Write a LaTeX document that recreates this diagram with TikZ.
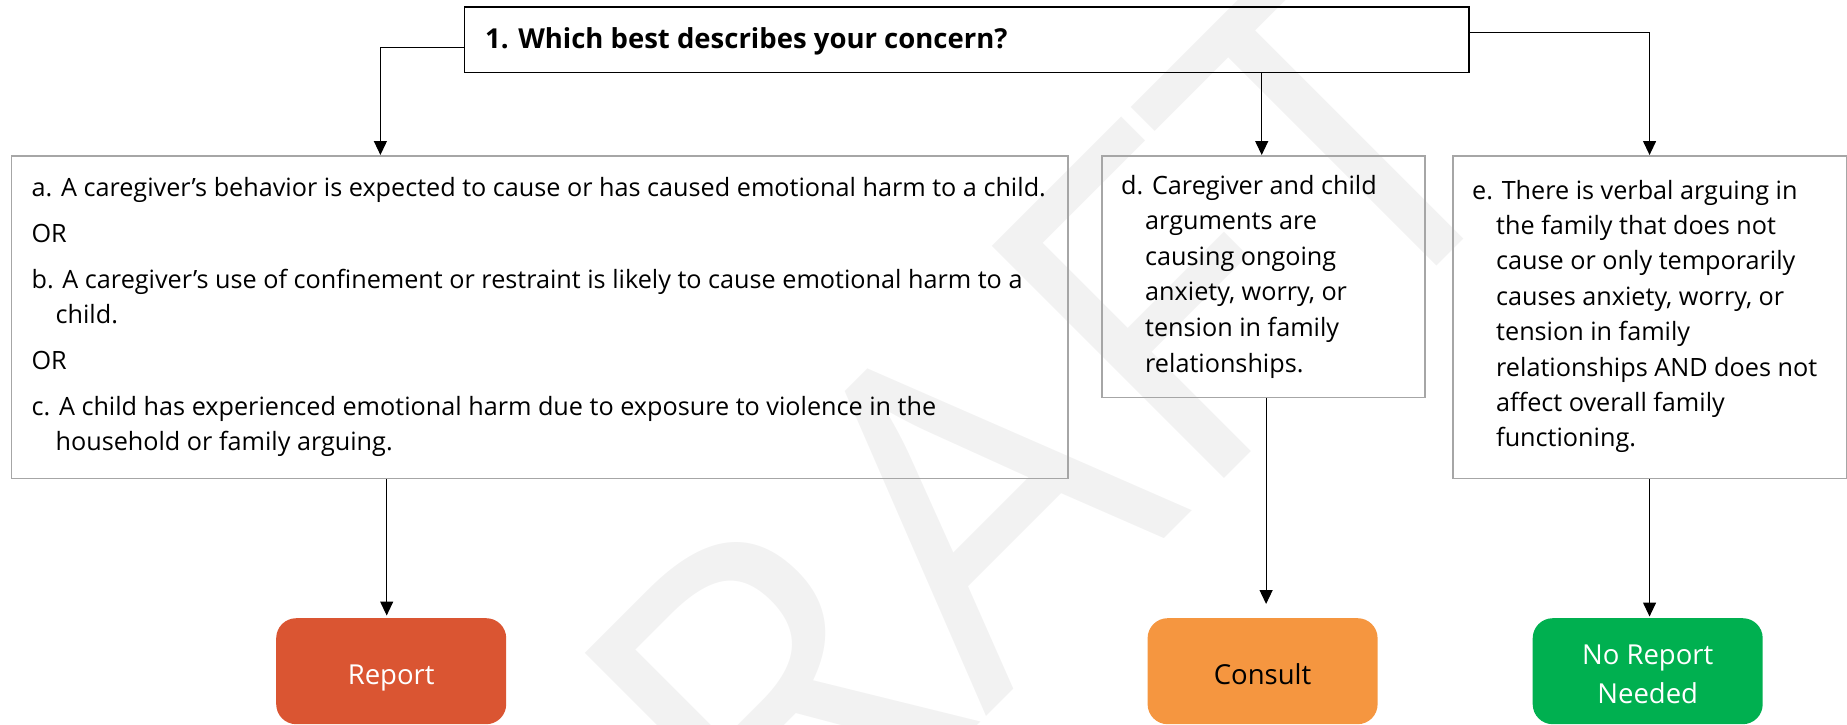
\documentclass[tikz,border=0pt]{standalone}
\usepackage{fontspec}
\setmainfont{Open Sans}
\usetikzlibrary{arrows.meta,calc}

\definecolor{reportred}{HTML}{DA5532}
\definecolor{consultorange}{HTML}{F59640}
\definecolor{noreportgreen}{HTML}{00B050}
\definecolor{boxgray}{HTML}{A6A6A6}
\definecolor{markgray}{HTML}{F2F2F2}

% continuation lines of a lettered item hang under its text
\newcommand{\contindent}{\hspace*{24pt}}

\begin{document}
\begin{tikzpicture}[x=1pt,y=-1pt,
  question/.style={draw=black, line width=1.5pt, inner sep=0pt, anchor=north west},
  choice/.style={draw=boxgray, line width=1.6pt, inner sep=0pt, anchor=north west},
  % multi-line text: the base anchor sits on the last line
  bodytext/.style={anchor=base west, inner sep=0pt, align=left, text=black},
  outcome/.style={rounded corners=20pt, inner sep=0pt, anchor=north west,
    minimum width=230pt, minimum height=106pt},
  outlabel/.style={anchor=base, inner sep=0pt, align=center,
    font=\fontsize{27.5}{39.5}\selectfont},
  link/.style={line width=1.2pt, -{Triangle[length=14pt,width=13pt]}},
]
\useasboundingbox (0,0) rectangle (1847,725);

% faint watermark behind everything
\node[rotate=45, text=markgray, inner sep=0pt,
  font=\fontsize{460}{460}\selectfont] (mark) at (928,542) {DRAFT};

% question
\node[question, minimum width=1004.5pt, minimum height=65.5pt] (q) at (463.7,6.5) {};
\node[anchor=base west, inner sep=0pt, font=\bfseries\fontsize{27.5}{33}\selectfont]
  (qtext) at (485,48.5) {1. Which best describes your concern?};

% answer boxes
\node[choice, minimum width=1056.4pt, minimum height=322.6pt] (a) at (10.6,155) {};
\node[choice, minimum width=323pt, minimum height=241.7pt] (d) at (1101,155) {};
\node[choice, minimum width=393.5pt, minimum height=322.6pt] (e) at (1452,155) {};

\node[bodytext, font=\fontsize{25.2}{35.2}\selectfont] (atext) at (31.4,450.9) {%
  a. A caregiver’s behavior is expected to cause or has caused emotional harm to a child.\\[10.8pt]
  OR\\[10.8pt]
  b. A caregiver’s use of confinement or restraint is likely to cause emotional harm to a\\
  \contindent child.\\[10.8pt]
  OR\\[10.8pt]
  c. A child has experienced emotional harm due to exposure to violence in the\\
  \contindent household or family arguing.};

\node[bodytext, font=\fontsize{25.2}{35.6}\selectfont] (dtext) at (1121,372) {%
  d. Caregiver and child\\
  \contindent arguments are\\
  \contindent causing ongoing\\
  \contindent anxiety, worry, or\\
  \contindent tension in family\\
  \contindent relationships.};

\node[bodytext, font=\fontsize{25.2}{35.4}\selectfont] (etext) at (1472,446.8) {%
  e. There is verbal arguing in\\
  \contindent the family that does not\\
  \contindent cause or only temporarily\\
  \contindent causes anxiety, worry, or\\
  \contindent tension in family\\
  \contindent relationships AND does not\\
  \contindent affect overall family\\
  \contindent functioning.};

% outcomes
\node[outcome, fill=reportred] (report) at (276,618) {};
\node[outcome, fill=consultorange] (consult) at (1147.4,618) {};
\node[outcome, fill=noreportgreen] (noreport) at (1532.5,618) {};
\node[outlabel, text=white] (reportlabel) at ([yshift=-13pt]report.center) {Report};
\node[outlabel, text=black] (consultlabel) at ([yshift=-13pt]consult.center) {Consult};
\node[outlabel, text=white] (noreportlabel) at ([yshift=-32.5pt]noreport.center) {No Report\\Needed};

% connectors from the question
\coordinate (qa) at ([yshift=-7.75pt]q.west);
\coordinate (qd) at ([xshift=295pt]q.south);
\coordinate (qe) at ([yshift=7.85pt]q.east);
\coordinate (ain) at ([xshift=-159.2pt]a.north);
\draw[link] (qa) -| (ain);
\draw[link] (qd) -- (qd |- d.north);
\draw[link] (qe) -| (e.north);

% connectors to the outcomes
\coordinate (rin) at ([xshift=-4.5pt]report.north);
\coordinate (cin) at ([xshift=3.5pt]consult.north);
\draw[link, shorten >=2.5pt] (rin |- a.south) -- (rin);
\draw[link, shorten >=14pt] (cin |- d.south) -- (cin);
\draw[link, shorten >=1.5pt] (e.south) -- (e.south |- noreport.north);
\end{tikzpicture}
\end{document}
